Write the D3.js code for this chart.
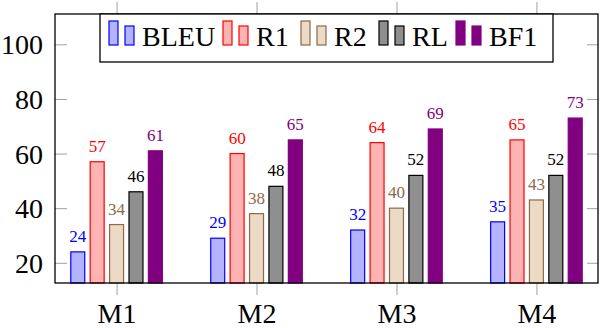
<!DOCTYPE html>
<html>
<head>
<meta charset="utf-8">
<script src="https://cdn.jsdelivr.net/npm/d3@7/dist/d3.min.js"></script>
</head>
<body style="margin:0">
<svg id="grafico" width="600" height="328"></svg>
<script>
// dati
var categorie = ['M1', 'M2', 'M3', 'M4'];
var serie = ['BLEU', 'R1', 'R2', 'RL', 'BF1'];
var bleu = [24, 29, 32, 35];
var r1 = [57, 60, 64, 65];
var r2 = [34, 38, 40, 43];
var rl = [46, 48, 52, 52];
var bf1 = [61, 65, 69, 73];
var yTicks = [20, 40, 60, 80, 100];

var valori = [bleu, r1, r2, rl, bf1];
var riempimento = ['#b3b3ff', '#ffb3b3', '#ecd9c6', '#8f8f8f', '#800080'];
var bordo = ['#0000ff', '#ff0000', '#8c6a4a', '#000000', '#800080'];
var carattere = 'Times New Roman, Liberation Serif, serif';

var svg = d3.select('#grafico');
var sinistra = 55, destra = 598, alto = 14, basso = 283;

var x = d3.scalePoint().domain(categorie).range([sinistra, destra]).padding(0.44);
var x1 = d3.scaleBand().domain(serie).range([-48.5, 48.5]).paddingInner(0.28).paddingOuter(0.14);
var y = d3.scaleLinear().domain([12.6, 111.1]).range([basso, alto]);

// assi
var asseSx = svg.append('g').attr('transform', 'translate(' + sinistra + ',0)')
  .call(d3.axisLeft(y).tickValues(yTicks).tickSize(-12).tickPadding(12));
var asseDx = svg.append('g').attr('transform', 'translate(' + destra + ',0)')
  .call(d3.axisRight(y).tickValues(yTicks).tickSize(-11).tickFormat(''));
var asseGiu = svg.append('g').attr('transform', 'translate(0,' + basso + ')')
  .call(d3.axisBottom(x).tickSize(12));
var asseSu = svg.append('g').attr('transform', 'translate(0,' + alto + ')')
  .call(d3.axisTop(x).tickSize(12).tickFormat(''));

[asseSx, asseDx, asseGiu, asseSu].forEach(function (a) {
  a.select('.domain').remove();
  a.selectAll('.tick line').attr('stroke', '#a0a0a0').attr('stroke-width', 1);
  a.selectAll('.tick text').attr('fill', '#000').attr('class', 'grande');
});
asseSx.selectAll('.tick text').attr('dy', '0.34em');
// etichette M1..M4: linea di base fissa
asseGiu.selectAll('.tick text').attr('y', 40).attr('dy', null);

// barre
var barre = svg.append('g');
serie.forEach(function (s, i) {
  valori[i].forEach(function (v, j) {
    var cx = x(categorie[j]) + x1(s);
    barre.append('rect')
      .attr('x', cx)
      .attr('y', y(v))
      .attr('width', x1.bandwidth())
      .attr('height', basso - y(v))
      .attr('fill', riempimento[i])
      .attr('stroke', bordo[i])
      .attr('stroke-width', 1.2);
    barre.append('text')
      .attr('class', 'piccolo')
      .attr('x', cx + x1.bandwidth() / 2)
      .attr('y', y(v) - 10)
      .attr('text-anchor', 'middle')
      .attr('fill', bordo[i])
      .text(v);
  });
});

// cornice
svg.append('rect')
  .attr('x', sinistra).attr('y', alto)
  .attr('width', destra - sinistra).attr('height', basso - alto)
  .attr('fill', 'none').attr('stroke', '#000').attr('stroke-width', 1.3);

// legenda (larghezze dei testi stimate: Times, 28px)
var larghezzeTesto = [73, 37, 37, 36, 50];
var legenda = svg.append('g');
var sfondo = legenda.append('rect');
var posx = 0;
serie.forEach(function (s, i) {
  legenda.append('rect').attr('x', posx).attr('y', 21).attr('width', 9).attr('height', 24)
    .attr('fill', riempimento[i]).attr('stroke', bordo[i]).attr('stroke-width', 1.2);
  legenda.append('rect').attr('x', posx + 16).attr('y', 26).attr('width', 9).attr('height', 19)
    .attr('fill', riempimento[i]).attr('stroke', bordo[i]).attr('stroke-width', 1.2);
  legenda.append('text').attr('class', 'grande')
    .attr('x', posx + 33).attr('y', 46).attr('fill', '#000').text(s);
  posx = posx + 33 + larghezzeTesto[i] + 8;
});
var larghezza = posx - 8 + 9 + 14;
sfondo.attr('x', -9).attr('y', alto).attr('width', larghezza).attr('height', 48)
  .attr('fill', '#fff').attr('stroke', '#000').attr('stroke-width', 1.3);
var centro = (sinistra + destra) / 2;
legenda.attr('transform', 'translate(' + (centro - larghezza / 2 + 9) + ',0)');

// carattere con serif per tutti i testi
svg.selectAll('text.grande')
  .attr('font-family', carattere).attr('font-size', 28)
  .style('font-family', carattere, 'important').style('font-size', '28px', 'important');
svg.selectAll('text.piccolo')
  .attr('font-family', carattere).attr('font-size', 17)
  .style('font-family', carattere, 'important').style('font-size', '17px', 'important');
</script>
</body>
</html>
